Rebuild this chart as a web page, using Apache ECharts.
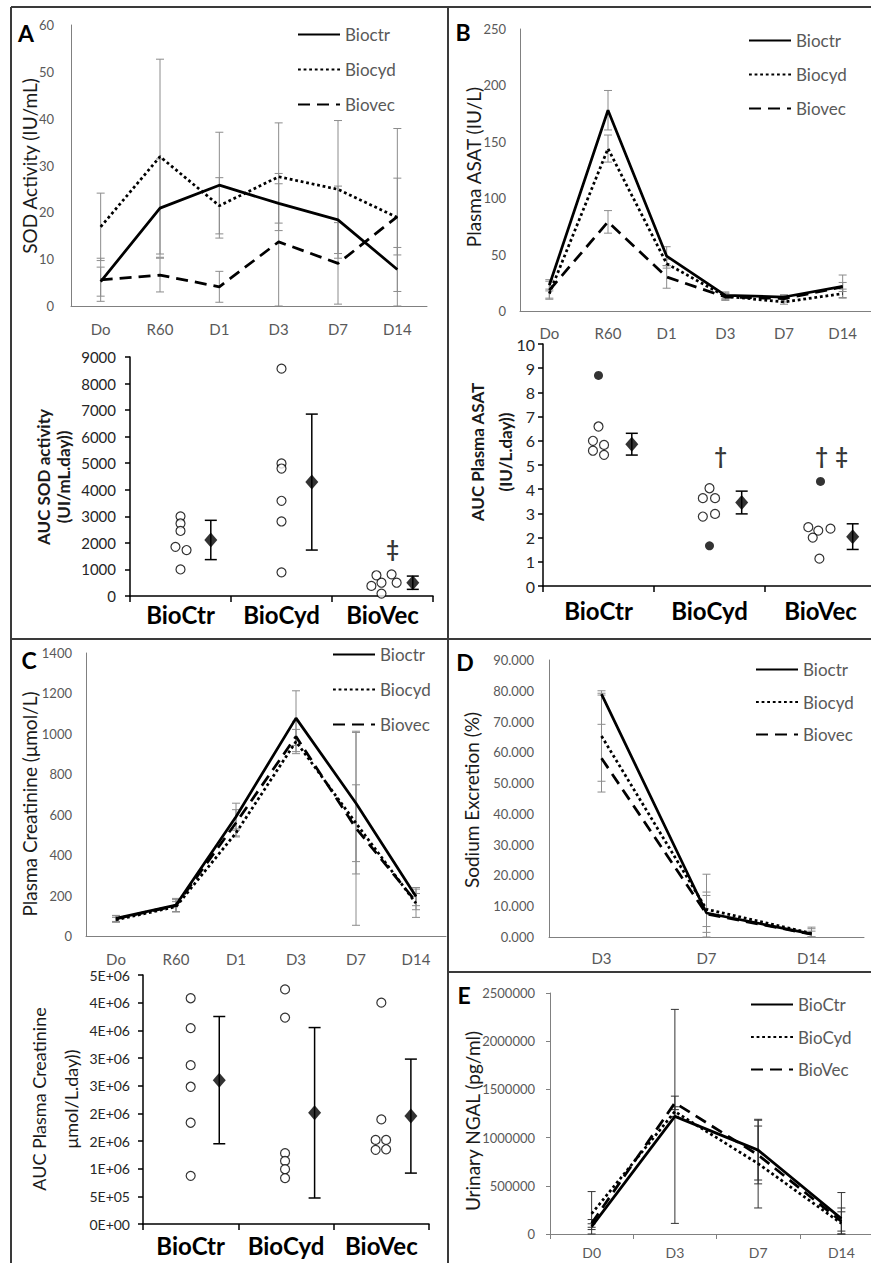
<!DOCTYPE html>
<html>
<head>
<meta charset="utf-8">
<script src="https://cdn.jsdelivr.net/npm/echarts@6/dist/echarts.min.js"></script>
<style>
html, body { margin: 0; padding: 0; background: #fff; }
#main { width: 871px; height: 1263px; }
</style>
</head>
<body>
<div id="main"></div>
<script>
// ---- data ----
const timeCats = ['Do', 'R60', 'D1', 'D3', 'D7', 'D14']
const naCats = ['D3', 'D7', 'D14']
const ngalCats = ['D0', 'D3', 'D7', 'D14']
const aucCats = ['BioCtr', 'BioCyd', 'BioVec']

// A - SOD activity
const sodCtr = [5.2, 20.9, 25.8, 21.9, 18.4, 7.8]
const sodCyd = [16.9, 31.9, 21.4, 27.6, 24.9, 18.9]
const sodVec = [5.6, 6.6, 4.1, 13.7, 9.1, 19.1]
const sodCtrErr = [3.1, 10.5, 11.3, 4.2, 7.2, 4.7]
const sodCydErr = [7.2, 20.8, 6.0, 11.5, 14.7, 19.0]
const sodVecErr = [4.6, 3.6, 3.3, 14.6, 8.7, 8.2]
const sodAucOpen = [[0.5, 3000], [0.5, 2730], [0.5, 2450], [0.45, 1850], [0.56, 1730], [0.5, 1000],
  [1.5, 8560], [1.5, 4990], [1.5, 4800], [1.5, 3585], [1.5, 2807], [1.5, 890],
  [2.39, 380], [2.49, 500], [2.44, 780], [2.59, 815], [2.64, 500], [2.49, 90]]
const sodAucFilled = []
const sodAucMean = [[0.8, 2110], [1.8, 4290], [2.8, 500]]
const sodAucSd = [740, 2560, 250]
const sodAucNotes = [[2.6, 1800, '‡']]

// B - plasma ASAT
const asatCtr = [22.8, 178, 48.6, 13.9, 12.4, 21.9]
const asatCyd = [15.4, 144, 42, 13, 8, 15.4]
const asatVec = [18.4, 79, 30.2, 12.4, 11, 21.3]
const asatCtrErr = [5, 17.5, 8.4, 3, 2, 10]
const asatCydErr = [4, 12, 4, 3, 2, 4]
const asatVecErr = [8, 10, 10, 3, 3, 4]
const asatAucOpen = [[0.5, 6.59], [0.45, 6.0], [0.55, 5.83], [0.45, 5.59], [0.55, 5.42],
  [1.44, 3.63], [1.5, 4.04], [1.55, 3.63], [1.44, 2.87], [1.55, 2.98],
  [2.39, 2.43], [2.48, 2.29], [2.43, 2.0], [2.59, 2.37], [2.49, 1.13]]
const asatAucFilled = [[0.5, 8.7], [1.5, 1.66], [2.5, 4.32]]
const asatAucMean = [[0.8, 5.86], [1.79, 3.45], [2.79, 2.04]]
const asatAucSd = [0.45, 0.47, 0.53]
const asatAucNotes = [[1.6, 5.4, '†'], [2.51, 5.4, '†'], [2.69, 5.4, '‡']]

// C - plasma creatinine
const creaCtr = [87, 153, 590, 1078, 657, 195]
const creaCyd = [80, 145, 510, 962, 558, 162]
const creaVec = [85, 150, 560, 987, 533, 170]
const creaCtrErr = [15, 33, 67, 135, 350, 45]
const creaCydErr = [12, 25, 20, 60, 190, 70]
const creaVecErr = [15, 30, 65, 75, 480, 40]
const creaAucOpen = [[0.5, 4.08e6], [0.5, 3.54e6], [0.5, 2.87e6], [0.5, 2.48e6], [0.5, 1.83e6], [0.5, 0.87e6],
  [1.49, 4.24e6], [1.49, 3.73e6], [1.49, 1.28e6], [1.49, 1.14e6], [1.49, 0.99e6], [1.49, 0.83e6],
  [2.5, 4.0e6], [2.5, 1.89e6], [2.44, 1.52e6], [2.55, 1.52e6], [2.44, 1.34e6], [2.55, 1.35e6]]
const creaAucFilled = []
const creaAucMean = [[0.8, 2.6e6], [1.8, 2.01e6], [2.81, 1.95e6]]
const creaAucSd = [1.15e6, 1.54e6, 1.03e6]
const creaAucTicks = ['0E+00', '5E+05', '1E+06', '2E+06', '2E+06', '3E+06', '3E+06', '4E+06', '4E+06', '5E+06']

// D - sodium excretion
const naCtr = [78.9, 7.8, 1.0]
const naCyd = [65.3, 9.0, 1.2]
const naVec = [58.1, 7.5, 0.9]
const naCtrErr = [0.3, 12.6, 2.2]
const naCydErr = [14.7, 5.6, 1.5]
const naVecErr = [11, 6, 1]

// E - urinary NGAL
const ngalCtr = [76000, 1220000, 870000, 160000]
const ngalCyd = [210000, 1270000, 730000, 110000]
const ngalVec = [110000, 1360000, 820000, 130000]
const ngalCtrErr = [30000, 1110000, 310000, 270000]
const ngalCydErr = [230000, 50000, 460000, 160000]
const ngalVecErr = [40000, 70000, 300000, 100000]

// ---- chart ----
const FONT = 'Lato, "Open Sans", sans-serif'
const GREY = '#595959'
const dash = { solid: 'solid', dotted: [2.8, 2.8], dashed: [12, 7] }

const grids = []
const xAxes = []
const yAxes = []
const series = []
const legends = []
const graphics = []

function errorBars(capW, color, width) {
  return function (params, api) {
    const x = api.value(0)
    const lo = api.coord([x, api.value(1)])
    const hi = api.coord([x, api.value(2)])
    const style = { stroke: color, lineWidth: width }
    return {
      type: 'group',
      children: [
        { type: 'line', shape: { x1: lo[0], y1: lo[1], x2: hi[0], y2: hi[1] }, style },
        { type: 'line', shape: { x1: lo[0] - capW, y1: lo[1], x2: lo[0] + capW, y2: lo[1] }, style },
        { type: 'line', shape: { x1: hi[0] - capW, y1: hi[1], x2: hi[0] + capW, y2: hi[1] }, style }
      ]
    }
  }
}

function addLinePanel(cfg) {
  const gi = grids.length
  grids.push(Object.assign({ outerBoundsMode: 'none' }, cfg.grid))
  const xi = xAxes.length
  xAxes.push({
    gridIndex: gi, type: 'category', data: cfg.cats,
    axisLine: { show: true, lineStyle: { color: '#808080', width: 1 } },
    axisTick: { show: !!cfg.xTicks, length: 5, lineStyle: { color: '#808080' } },
    axisLabel: { interval: 0, margin: cfg.xMargin, color: GREY, fontSize: cfg.xFont || 15, fontFamily: FONT },
    splitLine: { show: false }
  })
  const yi = yAxes.length
  yAxes.push({
    gridIndex: gi, type: 'value', min: 0, max: cfg.max, interval: cfg.interval,
    axisLine: { show: true, lineStyle: { color: '#808080', width: 1 } },
    axisTick: { show: !!cfg.yTicks, length: 4, lineStyle: { color: '#808080' } },
    axisLabel: { margin: cfg.yMargin, color: GREY, fontSize: 13, fontFamily: FONT, formatter: cfg.fmt || function (v) { return String(v) } },
    splitLine: { show: false }
  })
  cfg.lines.forEach(function (l) {
    series.push({
      type: 'custom', xAxisIndex: xi, yAxisIndex: yi, z: 2,
      renderItem: errorBars(4, cfg.errColor, 1),
      encode: { x: 0, y: [1, 2] },
      data: l[1].map(function (v, i) { return [i, Math.max(0, v - l[2][i]), v + l[2][i]] })
    })
    series.push({
      type: 'line', name: l[0], xAxisIndex: xi, yAxisIndex: yi, z: 3,
      data: l[1], symbol: 'none', showSymbol: false,
      lineStyle: { color: '#000', width: 2.75, type: dash[l[3]] },
      itemStyle: { color: '#000' }
    })
  })
  legends.push(Object.assign({
    data: cfg.lines.map(function (l) { return l[0] }),
    orient: 'vertical', padding: 0, itemWidth: 42, itemHeight: 14, selectedMode: false,
    itemStyle: { opacity: 0 },
    textStyle: { color: GREY, fontSize: 17, fontFamily: FONT }
  }, cfg.legend))
}

function addAucPanel(cfg) {
  const gi = grids.length
  grids.push(Object.assign({ outerBoundsMode: 'none' }, cfg.grid))
  const xi = xAxes.length
  xAxes.push({
    gridIndex: gi, type: 'value', min: 0, max: 3, interval: 1,
    axisLine: { show: true, lineStyle: { color: '#000', width: 1.5 } },
    axisTick: { show: true, length: 6, lineStyle: { color: '#000', width: 1.5 } },
    axisLabel: { show: false }, splitLine: { show: false }
  })
  xAxes.push({
    gridIndex: gi, type: 'category', data: aucCats, position: 'bottom',
    axisLine: { show: false }, axisTick: { show: false },
    axisLabel: { interval: 0, margin: cfg.catMargin, color: '#000', fontSize: 24, fontWeight: 'bold', fontFamily: FONT }
  })
  const yi = yAxes.length
  yAxes.push({
    gridIndex: gi, type: 'value', min: 0, max: cfg.max, interval: cfg.interval,
    axisLine: { show: true, lineStyle: { color: '#000', width: 1.5 } },
    axisTick: { show: true, length: 5, lineStyle: { color: '#000', width: 1.5 } },
    axisLabel: { margin: cfg.yMargin, color: '#262626', fontSize: cfg.yFont, fontFamily: FONT, formatter: cfg.fmt },
    splitLine: { show: false }
  })
  series.push({
    type: 'scatter', xAxisIndex: xi, yAxisIndex: yi, data: cfg.open,
    symbol: 'circle', symbolSize: 9,
    itemStyle: { color: '#fff', borderColor: '#000', borderWidth: 1.2 }
  })
  series.push({
    type: 'scatter', xAxisIndex: xi, yAxisIndex: yi, data: cfg.filled,
    symbol: 'circle', symbolSize: 9, itemStyle: { color: '#000' }
  })
  series.push({
    type: 'custom', xAxisIndex: xi, yAxisIndex: yi,
    renderItem: errorBars(6, '#000', 1.5),
    encode: { x: 0, y: [1, 2] },
    data: cfg.mean.map(function (m, i) { return [m[0], m[1] - cfg.sd[i], m[1] + cfg.sd[i]] })
  })
  series.push({
    type: 'scatter', xAxisIndex: xi, yAxisIndex: yi, data: cfg.mean, z: 3,
    symbol: 'diamond', symbolSize: [13, 15], itemStyle: { color: '#000' }
  })
  if (cfg.notes) {
    series.push({
      type: 'scatter', xAxisIndex: xi, yAxisIndex: yi, symbolSize: 1,
      itemStyle: { color: 'transparent' },
      data: cfg.notes.map(function (n) { return { value: [n[0], n[1]], name: n[2] } }),
      label: { show: true, position: 'inside', formatter: '{b}', color: '#000', fontSize: 22, fontWeight: 'bold', fontFamily: FONT }
    })
  }
}

function yTitle(text, x, y, size, bold, lh) {
  graphics.push({
    type: 'text', x: x, y: y, rotation: Math.PI / 2,
    style: {
      text: text, fill: '#1a1a1a', fontSize: size, fontWeight: bold ? 'bold' : 'normal', fontFamily: FONT,
      align: 'center', verticalAlign: 'middle', lineHeight: lh || size
    }
  })
}

function letter(text, x, y) {
  graphics.push({
    type: 'text', x: x, y: y,
    style: { text: text, fill: '#000', fontSize: 23, fontWeight: 'bold', fontFamily: FONT, align: 'center', verticalAlign: 'middle' }
  })
}

function frameLine(x1, y1, x2, y2) {
  graphics.push({ type: 'line', shape: { x1, y1, x2, y2 }, style: { stroke: '#3a3a3a', lineWidth: 2 } })
}

// A top
addLinePanel({
  grid: { left: 71, top: 25, width: 356, height: 281 },
  cats: timeCats, max: 60, interval: 10, xMargin: 15, yMargin: 17, errColor: '#8c8c8c',
  lines: [['Bioctr', sodCtr, sodCtrErr, 'solid'], ['Biocyd', sodCyd, sodCydErr, 'dotted'], ['Biovec', sodVec, sodVecErr, 'dashed']],
  legend: { left: 297, top: 26, itemGap: 18 }
})
// A bottom
addAucPanel({
  grid: { left: 130, top: 357, width: 303, height: 239 },
  max: 9000, interval: 1000, yMargin: 14, yFont: 15, catMargin: 6,
  fmt: function (v) { return String(v) },
  open: sodAucOpen, filled: sodAucFilled, mean: sodAucMean, sd: sodAucSd, notes: sodAucNotes
})
// B top
addLinePanel({
  grid: { left: 520, top: 29, width: 352, height: 282 },
  cats: timeCats, max: 250, interval: 50, xMargin: 14, yMargin: 14, errColor: '#8c8c8c',
  lines: [['Bioctr', asatCtr, asatCtrErr, 'solid'], ['Biocyd', asatCyd, asatCydErr, 'dotted'], ['Biovec', asatVec, asatVecErr, 'dashed']],
  legend: { left: 748, top: 32, itemGap: 17 }
})
// B bottom
addAucPanel({
  grid: { left: 543, top: 344, width: 333, height: 242 },
  max: 10, interval: 1, yMargin: 8, yFont: 16, catMargin: 12,
  open: asatAucOpen, filled: asatAucFilled, mean: asatAucMean, sd: asatAucSd, notes: asatAucNotes
})
// C top
addLinePanel({
  grid: { left: 86, top: 653, width: 360, height: 283 },
  cats: timeCats, max: 1400, interval: 200, xMargin: 15, yMargin: 14, errColor: '#8c8c8c',
  lines: [['Bioctr', creaCtr, creaCtrErr, 'solid'], ['Biocyd', creaCyd, creaCydErr, 'dotted'], ['Biovec', creaVec, creaVecErr, 'dashed']],
  legend: { left: 332, top: 646, itemGap: 18 }
})
// C bottom
addAucPanel({
  grid: { left: 143, top: 975, width: 286, height: 249 },
  max: 4500000, interval: 500000, yMargin: 13, yFont: 14, catMargin: 9,
  fmt: function (v) { return creaAucTicks[Math.round(v / 500000)] },
  open: creaAucOpen, filled: creaAucFilled, mean: creaAucMean, sd: creaAucSd
})
// D
addLinePanel({
  grid: { left: 549, top: 660, width: 315, height: 277 },
  cats: naCats, max: 90, interval: 10, xMargin: 13, yMargin: 15, errColor: '#8c8c8c',
  fmt: function (v) { return v.toFixed(3) },
  lines: [['Bioctr', naCtr, naCtrErr, 'solid'], ['Biocyd', naCyd, naCydErr, 'dotted'], ['Biovec', naVec, naVecErr, 'dashed']],
  legend: { left: 755, top: 661, itemGap: 15.5 }
})
// E
addLinePanel({
  grid: { left: 550, top: 993, width: 333, height: 241 },
  cats: ngalCats, max: 2500000, interval: 500000, xMargin: 11, yMargin: 15, xFont: 14,
  xTicks: true, yTicks: true, errColor: '#333',
  lines: [['BioCtr', ngalCtr, ngalCtrErr, 'solid'], ['BioCyd', ngalCyd, ngalCydErr, 'dotted'], ['BioVec', ngalVec, ngalVecErr, 'dashed']],
  legend: { left: 750, top: 996, itemGap: 15.5 }
})

// titles, panel letters, frame
yTitle('SOD Activity (IU/mL)', 29, 166, 19)
yTitle('AUC SOD activity\n(UI/mL.day))', 53, 477, 17, true, 20)
yTitle('Plasma ASAT (IU/L)', 473, 167, 19)
yTitle('AUC Plasma ASAT\n(IU/L.day))', 491, 452, 17, true, 28)
yTitle('Plasma Creatinine (μmol/L)', 29, 804, 19)
yTitle('AUC Plasma Creatinine\nμmol/L.day))', 55, 1099, 18, false, 32)
yTitle('Sodium Excretion (%)', 471, 800, 19)
yTitle('Urinary NGAL (pg/ml)', 472, 1121, 19)

letter('A', 26, 33)
letter('B', 463, 32)
letter('C', 29, 660)
letter('D', 465, 662)
letter('E', 464, 995)

frameLine(11, 7, 871, 7)
frameLine(11, 7, 11, 1263)
frameLine(448, 7, 448, 1263)
frameLine(11, 639, 871, 639)
frameLine(448, 972, 871, 972)

const chart = echarts.init(document.getElementById('main'), null, { renderer: 'svg' })
chart.setOption({
  backgroundColor: '#fff',
  animation: false,
  textStyle: { fontFamily: FONT },
  grid: grids,
  xAxis: xAxes,
  yAxis: yAxes,
  legend: legends,
  series: series,
  graphic: graphics
})
</script>
</body>
</html>
